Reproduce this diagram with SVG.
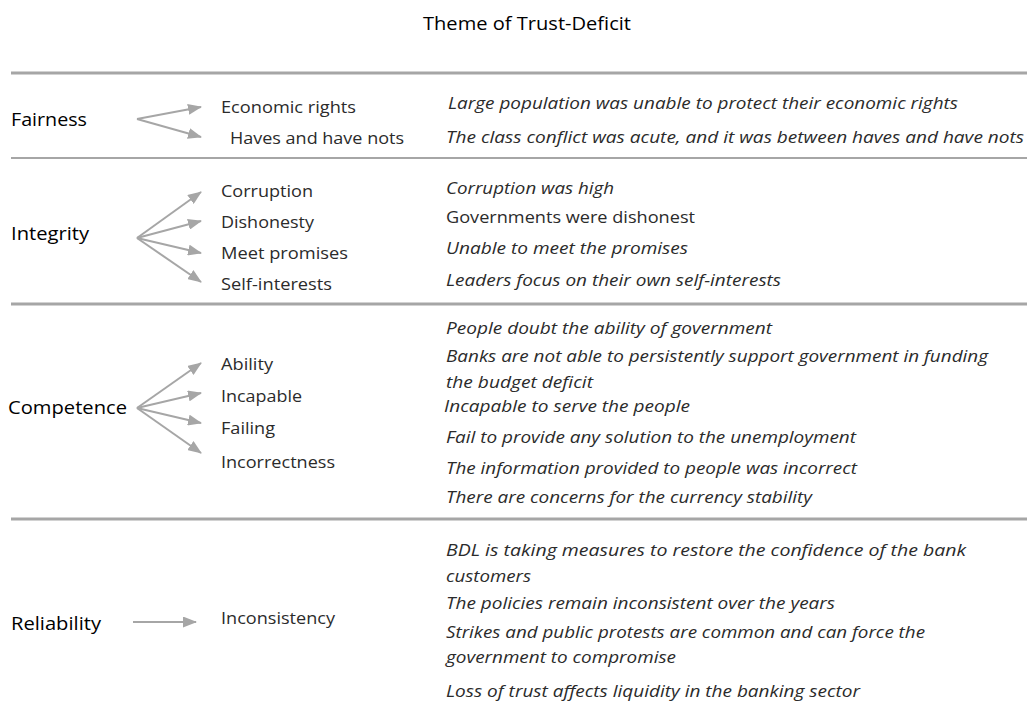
<svg xmlns="http://www.w3.org/2000/svg" width="1027" height="709" viewBox="0 0 1027 709">
<style>
text{font-family:"Open Sans","Noto Sans","Liberation Sans",sans-serif;}
.t{font-size:19px;fill:#000;}
.h{font-size:19px;fill:#000;}
.s{font-size:16.5px;fill:#2b2b2b;}
.i{font-size:16.5px;fill:#2b2b2b;font-style:italic;}
.div{stroke:#a6a6a6;}
.c{stroke:#a6a6a6;stroke-width:2;fill:none;marker-end:url(#ah);}
</style>
<defs>
<marker id="ah" viewBox="0 0 14 11" refX="13" refY="5.5" markerWidth="14" markerHeight="11" markerUnits="userSpaceOnUse" orient="auto">
<path d="M0,0 L14,5.5 L0,11 Z" fill="#a6a6a6"/>
</marker>
</defs>
<rect width="1027" height="709" fill="#fff"/>
<text class="t" x="423" y="30" textLength="208" lengthAdjust="spacingAndGlyphs">Theme of Trust-Deficit</text>
<g id="dividers">
<line class="div" x1="11" y1="73" x2="1027" y2="73" stroke-width="3"/>
<line class="div" x1="11" y1="158" x2="1027" y2="158" stroke-width="2"/>
<line class="div" x1="11" y1="304" x2="1027" y2="304" stroke-width="3"/>
<line class="div" x1="11" y1="519" x2="1027" y2="519" stroke-width="3"/>
</g>
<g id="connectors">
<path class="c" d="M137,119 L201,107"/>
<path class="c" d="M137,119 L201,137"/>
<path class="c" d="M137,238 L201,192"/>
<path class="c" d="M137,238 L201,221"/>
<path class="c" d="M137,238 L201,253"/>
<path class="c" d="M137,238 L201,282"/>
<path class="c" d="M137,408 L201,363"/>
<path class="c" d="M137,408 L201,393"/>
<path class="c" d="M137,408 L201,423"/>
<path class="c" d="M137,408 L201,453"/>
<path class="c" d="M133,622 L196,622"/>
</g>
<g id="fairness">
<text class="h" x="11" y="126" textLength="76" lengthAdjust="spacingAndGlyphs">Fairness</text>
<text class="s" x="221" y="113" textLength="135" lengthAdjust="spacingAndGlyphs">Economic rights</text>
<text class="s" x="230" y="144" textLength="174" lengthAdjust="spacingAndGlyphs">Haves and have nots</text>
<text class="i" x="448" y="109" textLength="510" lengthAdjust="spacingAndGlyphs">Large population was unable to protect their economic rights</text>
<text class="i" x="446" y="143" textLength="578" lengthAdjust="spacingAndGlyphs">The class conflict was acute, and it was between haves and have nots</text>
</g>
<g id="integrity">
<text class="h" x="11" y="240" textLength="78" lengthAdjust="spacingAndGlyphs">Integrity</text>
<text class="s" x="221" y="197" textLength="92" lengthAdjust="spacingAndGlyphs">Corruption</text>
<text class="s" x="221" y="228" textLength="93" lengthAdjust="spacingAndGlyphs">Dishonesty</text>
<text class="s" x="221" y="259" textLength="127" lengthAdjust="spacingAndGlyphs">Meet promises</text>
<text class="s" x="221" y="290" textLength="111" lengthAdjust="spacingAndGlyphs">Self-interests</text>
<text class="i" x="446" y="194" textLength="168" lengthAdjust="spacingAndGlyphs">Corruption was high</text>
<text class="s" x="446" y="223" textLength="249" lengthAdjust="spacingAndGlyphs">Governments were dishonest</text>
<text class="i" x="446" y="254" textLength="242" lengthAdjust="spacingAndGlyphs">Unable to meet the promises</text>
<text class="i" x="446" y="286" textLength="335" lengthAdjust="spacingAndGlyphs">Leaders focus on their own self-interests</text>
</g>
<g id="competence">
<text class="h" x="8" y="414" textLength="119" lengthAdjust="spacingAndGlyphs">Competence</text>
<text class="s" x="221" y="370" textLength="52" lengthAdjust="spacingAndGlyphs">Ability</text>
<text class="s" x="221" y="402" textLength="81" lengthAdjust="spacingAndGlyphs">Incapable</text>
<text class="s" x="221" y="434" textLength="54" lengthAdjust="spacingAndGlyphs">Failing</text>
<text class="s" x="221" y="468" textLength="114" lengthAdjust="spacingAndGlyphs">Incorrectness</text>
<text class="i" x="446" y="334" textLength="326" lengthAdjust="spacingAndGlyphs">People doubt the ability of government</text>
<text class="i" x="446" y="362" textLength="542" lengthAdjust="spacingAndGlyphs">Banks are not able to persistently support government in funding</text>
<text class="i" x="446" y="388" textLength="147" lengthAdjust="spacingAndGlyphs">the budget deficit</text>
<text class="i" x="444" y="412" textLength="246" lengthAdjust="spacingAndGlyphs">Incapable to serve the people</text>
<text class="i" x="446" y="443" textLength="410" lengthAdjust="spacingAndGlyphs">Fail to provide any solution to the unemployment</text>
<text class="i" x="446" y="474" textLength="411" lengthAdjust="spacingAndGlyphs">The information provided to people was incorrect</text>
<text class="i" x="446" y="503" textLength="366" lengthAdjust="spacingAndGlyphs">There are concerns for the currency stability</text>
</g>
<g id="reliability">
<text class="h" x="11" y="630" textLength="90" lengthAdjust="spacingAndGlyphs">Reliability</text>
<text class="s" x="221" y="624" textLength="114" lengthAdjust="spacingAndGlyphs">Inconsistency</text>
<text class="i" x="446" y="556" textLength="520" lengthAdjust="spacingAndGlyphs">BDL is taking measures to restore the confidence of the bank</text>
<text class="i" x="446" y="582" textLength="85" lengthAdjust="spacingAndGlyphs">customers</text>
<text class="i" x="446" y="609" textLength="389" lengthAdjust="spacingAndGlyphs">The policies remain inconsistent over the years</text>
<text class="i" x="446" y="638" textLength="479" lengthAdjust="spacingAndGlyphs">Strikes and public protests are common and can force the</text>
<text class="i" x="446" y="663" textLength="230" lengthAdjust="spacingAndGlyphs">government to compromise</text>
<text class="i" x="446" y="697" textLength="414" lengthAdjust="spacingAndGlyphs">Loss of trust affects liquidity in the banking sector</text>
</g>
</svg>
